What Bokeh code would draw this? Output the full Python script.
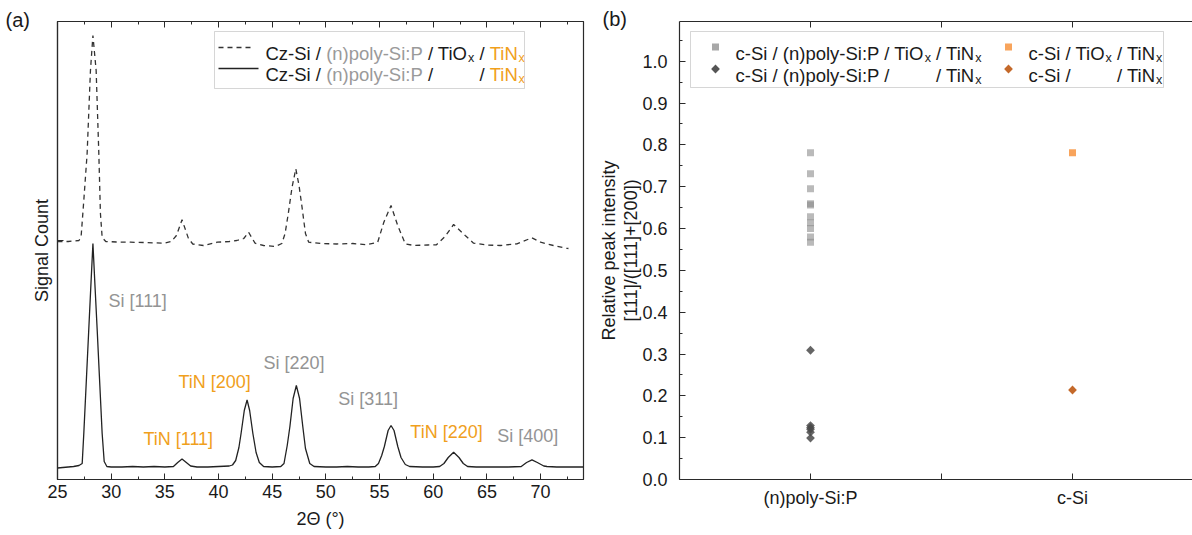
from bokeh.plotting import figure
from bokeh.models import (Range1d, SingleIntervalTicker, FixedTicker, LinearAxis, Label,
                          BoxAnnotation, Arrow, PolyAnnotation, PrintfTickFormatter,
                          ColumnDataSource, CustomLabelingPolicy, GridBox, Row)
from bokeh.core.properties import value
from bokeh.embed import file_html
from bokeh.resources import INLINE

FONT = "Liberation Sans"
BLACK = "#1a1a1a"
GRAY_T = "#9a9a9a"
ORANGE = "#F0A01C"
AXIS = "#2a2a2a"

# ---------------- data, panel (a) ----------------
theta_solid = [25.0, 25.5, 26.0, 26.5, 27.0, 27.3, 27.45, 27.7, 27.9, 28.1, 28.3, 28.5, 28.7, 28.9,
               29.16, 29.35, 29.6, 30.0, 31.0, 32.0, 33.0, 34.0, 35.0, 35.8, 36.2, 36.6, 37.0, 37.4,
               38.0, 39.0, 40.0, 41.0, 41.3, 41.6, 41.9, 42.1, 42.4, 42.66, 42.9, 43.2, 43.5, 43.8,
               44.2, 45.0, 45.8, 46.1, 46.4, 46.65, 46.95, 47.25, 47.55, 47.85, 48.1, 48.5, 48.9,
               50.0, 51.0, 52.0, 53.0, 54.0, 54.6, 54.9, 55.2, 55.45, 55.8, 56.07, 56.35, 56.7, 57.0,
               57.4, 57.8, 59.0, 60.0, 60.6, 61.0, 61.4, 61.9, 62.4, 62.8, 63.2, 64.0, 65.0, 66.0,
               67.0, 68.2, 68.7, 69.2, 69.7, 70.3, 70.6, 71.5, 72.5, 73.5, 74.0]
signal_solid = [11.5, 12, 12.5, 13, 14, 16, 46, 102, 147, 192, 236, 192, 149, 104,
                46, 18, 13, 12.5, 12.5, 13, 12.5, 13, 12.5, 13, 17, 20.5, 17, 13.5,
                12.5, 12.5, 13, 13.5, 14.5, 19, 32, 46, 69, 79.5, 69, 46, 27, 17,
                13, 12.5, 13, 16, 34, 53, 81, 94, 81, 53, 31, 16, 13,
                12.5, 12.5, 13, 12.5, 12.5, 13, 16, 24, 33, 49, 54, 49, 33, 22,
                15, 13, 12.5, 12.5, 13, 16, 22, 27.3, 22, 16, 13, 12.5, 12.5, 12.5,
                12.5, 13, 17, 19.7, 17, 13.5, 13, 12.5, 12.5, 12.5, 12.5]
theta_dashed = [25.0, 26.0, 27.0, 27.2, 27.45, 27.76, 28.07, 28.3, 28.6, 28.85, 29.0, 29.16, 29.5,
                30.5, 31.8, 33.0, 34.9, 35.6, 36.08, 36.6, 37.2, 37.6, 38.6, 39.9, 41.0, 41.7,
                42.35, 42.8, 43.4, 44.2, 45.3, 45.9, 46.2, 46.5, 46.85, 47.2, 47.5, 47.78, 48.1,
                48.4, 49.5, 51.0, 52.5, 53.8, 54.83, 55.4, 56.07, 56.69, 57.4, 58.2, 59.5, 60.3,
                61.1, 61.9, 62.98, 63.76, 65.0, 66.25, 67.8, 68.4, 69.2, 70.0, 71.2, 72.4, 72.6]
signal_dashed = [238, 238, 239, 243, 279, 326, 409, 444, 409, 326, 266, 242, 238,
                 237.5, 237.3, 237, 236.3, 238, 244, 259.7, 241, 235.5, 234, 237.3, 238, 239,
                 241, 247.3, 236.3, 234, 233, 236, 246, 266, 292.3, 310.7, 294, 272.3, 246,
                 237.3, 236, 235.5, 236, 234.7, 237.3, 257.3, 274, 254, 235.7, 234, 234.5, 234.7,
                 243, 255, 244, 236.3, 234.5, 234, 235.7, 238.3, 241.7, 237.3, 234, 231.3, 231]
peak_names = ["Si [111]", "TiN [111]", "TiN [200]", "Si [220]", "Si [311]", "TiN [220]", "Si [400]"]
peak_phase = ["Si", "TiN", "TiN", "Si", "Si", "TiN", "Si"]

# ---------------- data, panel (b) ----------------
groups = ["(n)poly-Si:P", "c-Si"]
ratio_poly_tiox = [0.781, 0.731, 0.695, 0.659, 0.656, 0.628, 0.614, 0.600, 0.580, 0.567]
ratio_poly_notiox = [0.309, 0.129, 0.124, 0.120, 0.113, 0.099]
ratio_csi_tiox = [0.781]
ratio_csi_notiox = [0.214]

# ---------------- layout (page pixels) ----------------
A_LEFT, A_BOTTOM = 57, 479
B_LEFT, B_BOTTOM = 679, 479
peak_label_pos = [(29.75, 179), (33.0, 41), (36.27, 98), (44.18, 117), (51.16, 81), (57.87, 48), (65.97, 44)]
panel_letters = [("(a)", 5, 19), ("(b)", 602, 18)]

ARIAL = {'C': 722, 'z': 500, '-': 333, 'S': 667, 'i': 222, ' ': 278, '/': 278, '(': 333, 'n': 556,
         ')': 333, 'p': 556, 'o': 556, 'l': 222, 'y': 500, ':': 278, 'P': 667, 'T': 611, 'O': 778,
         'N': 722, 'x': 500, 'c': 500}

NO_LABELS = """
try { for (let i = 0; i < indices.size; i++) { indices.unset(i) } } catch (e) {}
return indices
"""


def tw(s, size):
    return sum(ARIAL.get(ch, 556) for ch in s) * size / 1000.0


def place(fig, fl, fb, x, base, text, color, size, sub=False):
    lead = len(text) - len(text.lstrip(' '))
    t = text.strip()
    if t:
        fig.add_layout(Label(x=x + tw(' ' * lead, size) - fl, y=fb - base, x_units='screen',
                             y_units='screen', text=t, text_color=color, text_font=FONT,
                             text_font_size=f"{size}px", text_baseline='alphabetic',
                             text_align='left'))
    x += tw(text, size)
    if sub:
        ss = round(size * 0.68, 1)
        fig.add_layout(Label(x=x - fl, y=fb - base - 4.5, x_units='screen', y_units='screen',
                             text='x', text_color=color, text_font=FONT,
                             text_font_size=f"{ss}px", text_baseline='alphabetic',
                             text_align='left'))
        x += tw('x', ss)
    return x


def style_axis(ax, size=18):
    ax.axis_line_color = AXIS
    ax.axis_line_width = 1.2
    ax.major_tick_line_color = AXIS
    ax.minor_tick_line_color = AXIS
    ax.major_tick_in = 6
    ax.major_tick_out = 0
    ax.minor_tick_in = 3
    ax.minor_tick_out = 0
    ax.major_label_text_font = FONT
    ax.major_label_text_font_size = f"{size}px"
    ax.major_label_text_color = BLACK
    ax.axis_label_text_font = FONT
    ax.axis_label_text_font_size = f"{size}px"
    ax.axis_label_text_font_style = "normal"
    ax.axis_label_text_color = BLACK


def hide_labels(ax):
    ax.major_label_text_font_size = "0px"
    ax.major_label_policy = CustomLabelingPolicy(code=NO_LABELS)


# ================= panel (a) =================
pa = figure(width=593, height=535, x_range=Range1d(25, 74), y_range=Range1d(0, 458),
            output_backend="svg", toolbar_location=None, min_border_left=57,
            min_border_right=10, min_border_top=21, min_border_bottom=56)
pa.grid.visible = False
pa.outline_line_color = AXIS
pa.outline_line_width = 1.2
pa.background_fill_color = "white"

for ax in pa.xaxis + pa.yaxis:
    style_axis(ax)
pa.xaxis.ticker = SingleIntervalTicker(interval=5, num_minor_ticks=2)
pa.xaxis.axis_label = "2Θ (°)"
pa.xaxis.major_label_standoff = 5
pa.xaxis.axis_label_standoff = 8
pa.yaxis.ticker = FixedTicker(ticks=[239], minor_ticks=[])
hide_labels(pa.yaxis[0])
pa.yaxis.axis_label = "Signal Count"
pa.yaxis.axis_label_standoff = 6
top_a = LinearAxis(ticker=SingleIntervalTicker(interval=5, num_minor_ticks=2))
style_axis(top_a)
hide_labels(top_a)
pa.add_layout(top_a, "above")

pa.line(theta_dashed, signal_dashed, line_color="#333333", line_width=1.3, line_dash="5 4")
pa.line(theta_solid, signal_solid, line_color="#222222", line_width=1.3)

lab_src = ColumnDataSource(dict(
    x=[p[0] for p in peak_label_pos], y=[p[1] for p in peak_label_pos], text=peak_names,
    color=[ORANGE if ph == "TiN" else "#949494" for ph in peak_phase]))
pa.text(x='x', y='y', text='text', source=lab_src, text_color='color',
        text_font=value(FONT), text_font_size="18px", text_baseline="middle", text_align="left")

# legend (a)
pa.add_layout(BoxAnnotation(left=214 - A_LEFT, right=524 - A_LEFT, top=A_BOTTOM - 31,
                            bottom=A_BOTTOM - 88, left_units='screen', right_units='screen',
                            top_units='screen', bottom_units='screen', fill_color='white',
                            fill_alpha=1, line_color='#777777', line_width=1))
pa.add_layout(Arrow(start=None, end=None, x_start=218 - A_LEFT, x_end=254 - A_LEFT,
                    y_start=A_BOTTOM - 47, y_end=A_BOTTOM - 47, start_units='screen',
                    end_units='screen', line_color="#333333", line_width=1.3, line_dash="5 4"))
pa.add_layout(Arrow(start=None, end=None, x_start=218 - A_LEFT, x_end=258 - A_LEFT,
                    y_start=A_BOTTOM - 68, y_end=A_BOTTOM - 68, start_units='screen',
                    end_units='screen', line_color="#222222", line_width=1.3))
LS = 18.5
x = 265
x = place(pa, A_LEFT, A_BOTTOM, x, 53, "Cz-Si / ", BLACK, LS)
x = place(pa, A_LEFT, A_BOTTOM, x, 53, "(n)poly-Si:P", GRAY_T, LS)
x = place(pa, A_LEFT, A_BOTTOM, x, 53, " / TiO", BLACK, LS, sub=True)
x_tin = x
x = place(pa, A_LEFT, A_BOTTOM, x, 53, " / ", BLACK, LS)
x = place(pa, A_LEFT, A_BOTTOM, x, 53, "TiN", ORANGE, LS, sub=True)
x = 265
x = place(pa, A_LEFT, A_BOTTOM, x, 73.5, "Cz-Si / ", BLACK, LS)
x = place(pa, A_LEFT, A_BOTTOM, x, 73.5, "(n)poly-Si:P", GRAY_T, LS)
x = place(pa, A_LEFT, A_BOTTOM, x, 73.5, " /", BLACK, LS)
x = place(pa, A_LEFT, A_BOTTOM, x_tin, 73.5, " / ", BLACK, LS)
x = place(pa, A_LEFT, A_BOTTOM, x, 73.5, "TiN", ORANGE, LS, sub=True)

# ================= panel (b) =================
pb = figure(width=599, height=535, x_range=Range1d(0.5, 2.458), y_range=Range1d(0, 1.095),
            output_backend="svg", toolbar_location=None, min_border_left=86,
            min_border_right=0, min_border_top=21, min_border_bottom=56)
pb.grid.visible = False
pb.outline_line_color = None
for ax in pb.xaxis + pb.yaxis:
    style_axis(ax)
tick_pos = [i + 1 for i in range(len(groups))]
pb.xaxis.ticker = FixedTicker(ticks=[1, 1.5, 2], minor_ticks=[])
overrides = {tick_pos[i]: groups[i] for i in range(len(groups))}
overrides[1.5] = ""
pb.xaxis.major_label_overrides = overrides
pb.xaxis.major_label_standoff = 8
pb.yaxis.ticker = SingleIntervalTicker(interval=0.1, num_minor_ticks=2)
pb.yaxis.formatter = PrintfTickFormatter(format="%.1f")
pb.yaxis.major_label_standoff = 12
pb.yaxis.axis_label = "Relative peak intensity\n[111]/([111]+[200])"
pb.yaxis.axis_label_standoff = -2
pb.yaxis.axis_label_text_line_height = 1.1
top_b = LinearAxis(ticker=FixedTicker(ticks=[1, 1.5, 2], minor_ticks=[]))
style_axis(top_b)
hide_labels(top_b)
pb.add_layout(top_b, "above")

xp = tick_pos[groups.index("(n)poly-Si:P")]
xc = tick_pos[groups.index("c-Si")]
pb.scatter([xp] * len(ratio_poly_tiox), ratio_poly_tiox, marker="square", size=7,
           fill_color="#8c8c8c", fill_alpha=0.6, line_color=None)
pb.scatter([xp] * len(ratio_poly_notiox), ratio_poly_notiox, marker="square", angle=0.7854,
           size=6.2, fill_color="#4a4a4a", fill_alpha=0.85, line_color=None)
pb.scatter([xc] * len(ratio_csi_tiox), ratio_csi_tiox, marker="square", size=7,
           fill_color="#F8A45C", line_color=None)
pb.scatter([xc] * len(ratio_csi_notiox), ratio_csi_notiox, marker="square", angle=0.7854,
           size=6.2, fill_color="#C4692A", line_color=None)

# legend (b)
pb.add_layout(BoxAnnotation(left=690 - B_LEFT, right=1163 - B_LEFT, top=B_BOTTOM - 31,
                            bottom=B_BOTTOM - 87, left_units='screen', right_units='screen',
                            top_units='screen', bottom_units='screen', fill_color='white',
                            fill_alpha=1, line_color='#777777', line_width=1))


def sq(cx, cy, color, alpha=1.0):
    pb.add_layout(BoxAnnotation(left=cx - 3.5 - B_LEFT, right=cx + 3.5 - B_LEFT,
                                top=B_BOTTOM - (cy - 3.5), bottom=B_BOTTOM - (cy + 3.5),
                                left_units='screen', right_units='screen', top_units='screen',
                                bottom_units='screen', fill_color=color, fill_alpha=alpha,
                                line_color=None))


def dia(cx, cy, color):
    r = 4.4
    pb.add_layout(PolyAnnotation(xs=[cx - r - B_LEFT, cx - B_LEFT, cx + r - B_LEFT, cx - B_LEFT],
                                 ys=[B_BOTTOM - cy, B_BOTTOM - cy + r, B_BOTTOM - cy, B_BOTTOM - cy - r],
                                 xs_units='screen', ys_units='screen', fill_color=color,
                                 fill_alpha=1, line_color=None))


sq(715, 46.5, "#a8a8a8")
dia(715, 68.5, "#555555")
sq(1008, 46.5, "#F8A45C")
dia(1008, 68.5, "#C4692A")

x = place(pb, B_LEFT, B_BOTTOM, 735, 53, "c-Si / (n)poly-Si:P / TiO", BLACK, LS, sub=True)
x_t1 = x
place(pb, B_LEFT, B_BOTTOM, x, 53, " / TiN", BLACK, LS, sub=True)
place(pb, B_LEFT, B_BOTTOM, 735, 74.5, "c-Si / (n)poly-Si:P /", BLACK, LS)
place(pb, B_LEFT, B_BOTTOM, x_t1, 74.5, " / TiN", BLACK, LS, sub=True)
x = place(pb, B_LEFT, B_BOTTOM, 1028, 53, "c-Si / TiO", BLACK, LS, sub=True)
x_t2 = x
place(pb, B_LEFT, B_BOTTOM, x, 53, " / TiN", BLACK, LS, sub=True)
place(pb, B_LEFT, B_BOTTOM, 1028, 74.5, "c-Si /", BLACK, LS)
place(pb, B_LEFT, B_BOTTOM, x_t2, 74.5, " / TiN", BLACK, LS, sub=True)

# ================= transparent overlay for panel letters =================
ov = figure(width=1192, height=535, x_range=Range1d(0, 1192), y_range=Range1d(535, 0),
            output_backend="svg", toolbar_location=None, x_axis_type=None, y_axis_type=None,
            min_border=0, min_border_left=0, min_border_right=0, min_border_top=0,
            min_border_bottom=0, background_fill_color=None, border_fill_color=None,
            outline_line_color=None)
ov.grid.visible = False
for txt, lx, ly in panel_letters:
    ov.add_layout(Label(x=lx, y=ly, text=txt, text_font=FONT, text_font_size="20px",
                        text_color=BLACK, text_baseline="middle", text_align="left"))

plots = Row(children=[pa, pb], spacing=0)
layout = GridBox(children=[(plots, 0, 0), (ov, 0, 0)], spacing=0)
open("out.html", "w").write(file_html(layout, INLINE))
